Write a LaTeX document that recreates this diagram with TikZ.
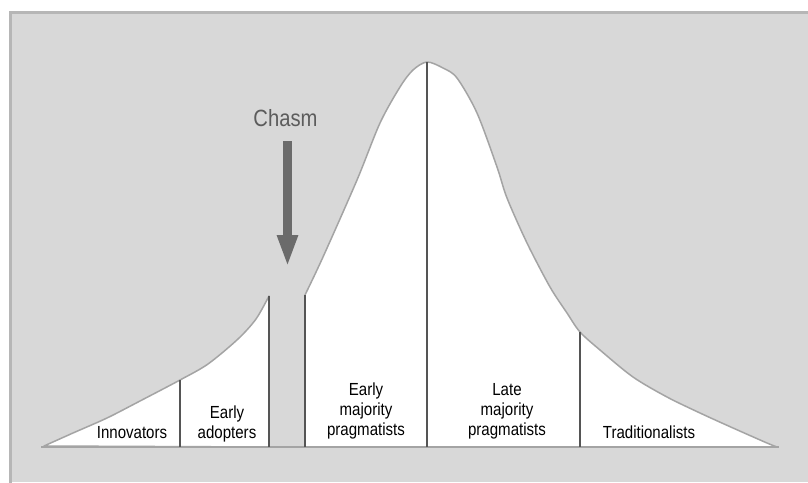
\documentclass[tikz,border=0pt]{standalone}
\usepackage{fontspec}
\setmainfont{Liberation Sans}[FakeStretch=0.86]
\usetikzlibrary{arrows.meta,positioning}
\definecolor{bggray}{HTML}{D8D8D8}
\definecolor{rimgray}{HTML}{B6B6B6}
\definecolor{curvegray}{HTML}{A4A4A4}
\definecolor{arrowgray}{HTML}{6B6B6B}
\definecolor{chasmgray}{HTML}{5C5C5C}
\definecolor{divgray}{HTML}{555555}
\tikzset{>=latex}
\tikzset{
  group/.style={align=center, font=\fontsize{17.5}{20}\selectfont, anchor=south, inner sep=0pt, text depth=4pt, text=black},
  divider/.style={divgray, line width=1.2pt},
  bell/.style={fill=white, draw=curvegray, line width=1.5pt, line join=round},
}

\begin{document}
\begin{tikzpicture}[x=1pt,y=-1pt]
		\useasboundingbox (0,0) rectangle (808,482);
		\fill[white] (0,0) rectangle (808,482);
		\fill[bggray] (9,11) rectangle (808,482);
		\draw[rimgray, line width=3pt] (10.5,484) -- (10.5,12.5) -- (810,12.5);
		\filldraw[bell] (269,447) -- plot[smooth] coordinates {(44,446) (73,433) (107,418) (140,401) (180,380) (208,364) (238,339) (256,319) (269,296)} -- cycle;
		\filldraw[bell] (305,447) -- plot[smooth] coordinates {(305,295) (323,257) (357,180) (380,123) (400,87) (413,70) (427,62) (443,68) (457,78) (477,113) (497,167) (507,198) (527,243) (550,287) (567,313) (580,332) (600,350) (633,377) (667,397) (700,413) (733,428) (767,443) (777,447)} -- cycle;
		\draw[curvegray, line width=2pt] (41,447) -- (779,447);
		\foreach \x/\y in {180/380, 269/296, 305/295, 427/62, 580/332}
			\draw[divider] (\x,447) -- (\x,\y);
		\coordinate (chasmtop) at (287.5,141);
		\coordinate (chasmtip) at (287.5,267);
		\draw[arrowgray, line width=9pt, -{Triangle[width=19pt,length=32pt]}] (chasmtop) -- (chasmtip);
		\node[font=\fontsize{23.5}{26}\selectfont, text=chasmgray, inner sep=0pt, above=14pt of chasmtop, xshift=-2pt] (chasm) {Chasm};
		\node[group] (innov) at (132,443) {Innovators};
		\node[group] (adopt) at (227,443) {Early\\adopters};
		\node[group] (earlymaj) at (366,440) {Early\\majority\\pragmatists};
		\node[group] (latemaj) at (507,440) {Late\\majority\\pragmatists};
		\node[group] (trad) at (649,443) {Traditionalists};
	\end{tikzpicture}
\end{document}
